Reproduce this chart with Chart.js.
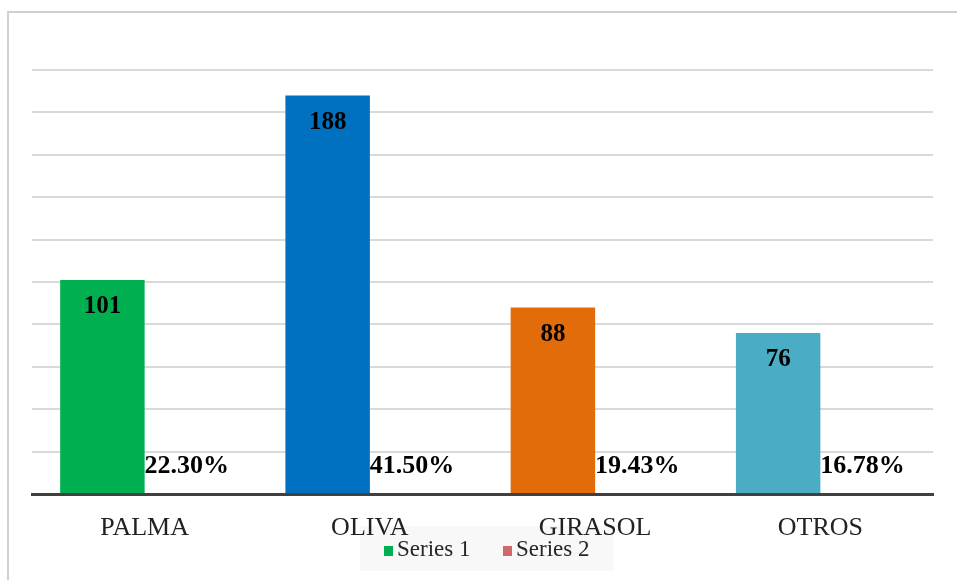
<!DOCTYPE html>
<html>
<head>
<meta charset="utf-8">
<script src="https://cdn.jsdelivr.net/npm/chart.js@4.4.0/dist/chart.umd.min.js"></script>
<style>
    html, body { margin: 0; padding: 0; background: #fff; }
    #wrap { position: relative; width: 957px; height: 580px; overflow: hidden; }
    #frame {
        position: absolute; left: 7px; top: 11px; right: -10px; bottom: -10px;
        border-left: 2px solid #d0d0d0; border-top: 2px solid #d0d0d0;
    }
    #chart { position: absolute; left: 0; top: 0; }
</style>
</head>
<body>
<div id="wrap">
    <div id="frame"></div>
    <canvas id="chart" width="957" height="580"></canvas>
</div>
<script>
// Chart data
const categories = ['PALMA', 'OLIVA', 'GIRASOL', 'OTROS'];
const series1 = [101, 188, 88, 76];
const series2 = [0.2230, 0.4150, 0.1943, 0.1678];
const series1Colors = ['#00b050', '#0070c0', '#e36c0a', '#4bacc6'];
const series2Color = '#d06a6a';
const yTicks = { min: 0, max: 200, step: 20 };

const serif = "'Liberation Serif', 'Times New Roman', serif";

// Value labels drawn on the bars
const valueLabels = {
    id: 'valueLabels',
    afterDatasetsDraw(chart) {
        const ctx = chart.ctx;
        ctx.save();
        ctx.fillStyle = '#000';
        ctx.textAlign = 'center';
        ctx.textBaseline = 'middle';
        ctx.font = 'bold 25px ' + serif;
        chart.getDatasetMeta(0).data.forEach((bar, i) => {
            ctx.fillText(String(series1[i]), bar.x, bar.y + 27);
        });
        ctx.font = 'bold 26px ' + serif;
        chart.getDatasetMeta(1).data.forEach((bar, i) => {
            const txt = (series2[i] * 100).toFixed(2) + '%';
            ctx.fillText(txt, bar.x, bar.base - 27);
        });
        ctx.restore();
    }
};

// Legend box sitting under the category labels, like the original
const boxLegend = {
    id: 'boxLegend',
    beforeDraw(chart) {
        const ctx = chart.ctx;
        ctx.save();
        ctx.fillStyle = '#f8f8f8';
        ctx.fillRect(360, 526, 253, 45);
        ctx.font = '23px ' + serif;
        ctx.textBaseline = 'middle';
        ctx.textAlign = 'left';
        const items = [
            { label: chart.data.datasets[0].label, color: series1Colors[0], x: 384 },
            { label: chart.data.datasets[1].label, color: series2Color, x: 503 }
        ];
        items.forEach(item => {
            ctx.fillStyle = item.color;
            ctx.fillRect(item.x, 546, 9, 10);
            ctx.fillStyle = '#262626';
            ctx.fillText(item.label, item.x + 13, 550);
        });
        ctx.restore();
    }
};

new Chart(document.getElementById('chart'), {
    type: 'bar',
    data: {
        labels: categories,
        datasets: [
            {
                label: 'Series 1',
                data: series1,
                backgroundColor: series1Colors,
                borderWidth: 0
            },
            {
                label: 'Series 2',
                data: series2,
                backgroundColor: series2Color,
                borderWidth: 0,
                minBarLength: 1
            }
        ]
    },
    options: {
        responsive: false,
        animation: false,
        events: [],
        layout: { padding: { left: 32, right: 24, top: 70, bottom: 0 } },
        datasets: {
            bar: { categoryPercentage: 0.75, barPercentage: 1.0 }
        },
        plugins: {
            legend: { display: false },
            tooltip: { enabled: false }
        },
        scales: {
            x: {
                grid: { drawOnChartArea: false, drawTicks: false },
                border: { display: true, color: '#404040', width: 3 },
                ticks: {
                    color: '#222',
                    padding: 19,
                    font: { family: serif, size: 26 }
                },
                afterFit(scale) { scale.height = 86; }
            },
            y: {
                min: yTicks.min,
                max: yTicks.max,
                ticks: { stepSize: yTicks.step, display: false },
                grid: { color: '#d9d9d9', lineWidth: 2, drawTicks: false },
                border: { display: false },
                afterFit(scale) { scale.width = 0; }
            }
        }
    },
    plugins: [valueLabels, boxLegend]
});
</script>
</body>
</html>
